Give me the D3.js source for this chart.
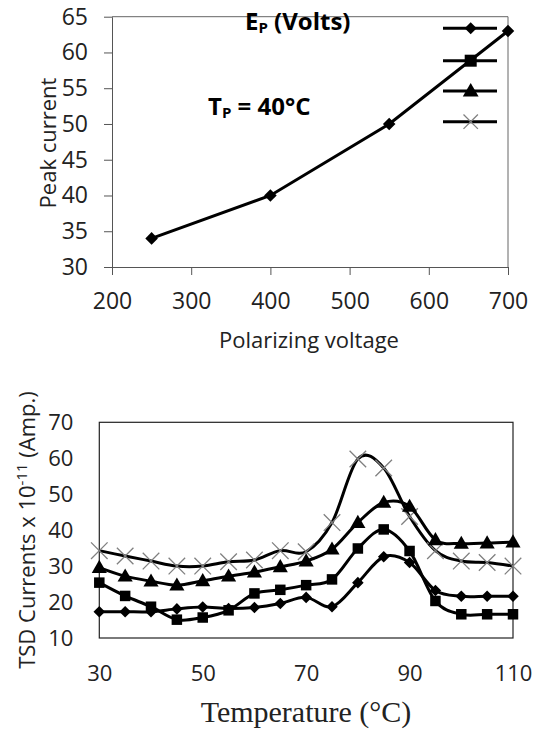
<!DOCTYPE html>
<html>
<head>
<meta charset="utf-8">
<script src="https://cdn.jsdelivr.net/npm/d3@7"></script>
<style>
  body { margin: 0; background: #fff; }
  svg { display: block; }
</style>
</head>
<body>
<script>
// top chart: peak current vs polarizing voltage
const voltages = [250, 400, 550, 700];
const peakCurrents = [34, 40, 50, 63];
const topXTicks = [200, 300, 400, 500, 600, 700];
const topYTicks = [30, 35, 40, 45, 50, 55, 60, 65];

// bottom chart: TSD currents vs temperature
const temps = [30, 35, 40, 45, 50, 55, 60, 65, 70, 75, 80, 85, 90, 95, 100, 105, 110];
const diamondSeries = [17.3, 17.3, 17.3, 18.1, 18.6, 18.2, 18.5, 19.6, 21.3, 18.7, 25.4, 32.6, 31.0, 23.2, 21.6, 21.6, 21.6];
const squareSeries = [25.4, 21.7, 18.7, 15.1, 15.7, 17.7, 22.4, 23.4, 24.7, 26.3, 34.9, 40.2, 34.2, 20.3, 16.6, 16.6, 16.6];
const triangleSeries = [29.6, 27.2, 25.8, 24.7, 25.9, 27.2, 28.3, 29.8, 31.4, 34.7, 42.1, 47.7, 46.6, 37.3, 36.3, 36.4, 36.7];
const crossSeries = [34.3, 32.8, 31.4, 30.0, 30.0, 31.2, 31.7, 34.3, 34.0, 42.1, 59.8, 57.3, 43.8, 34.3, 31.4, 31.0, 30.0];
const bottomXTicks = [30, 50, 70, 90, 110];
const bottomYTicks = [10, 20, 30, 40, 50, 60, 70];

const sansFont = "'Open Sans', Lato, sans-serif";

function main() {
    let svg = d3.select("body").append("svg")
        .attr("width", 540)
        .attr("height", 733);

    drawTopChart(svg);
    drawBottomChart(svg);
}

// marker helpers
function drawMarker(g, type, x, y, size) {
    if (type === "diamond") {
        let s = size * 0.71;
        g.append("rect")
            .attr("x", -s / 2).attr("y", -s / 2)
            .attr("width", s).attr("height", s)
            .attr("transform", "translate(" + x + "," + y + ") rotate(45)")
            .attr("fill", "#000");
    } else if (type === "square") {
        g.append("rect")
            .attr("x", x - size / 2).attr("y", y - size / 2)
            .attr("width", size).attr("height", size)
            .attr("fill", "#000");
    } else if (type === "triangle") {
        g.append("path")
            .attr("d", d3.symbol().type(d3.symbolTriangle).size(size * size * 0.75)())
            .attr("transform", "translate(" + x + "," + (y + 1) + ")")
            .attr("fill", "#000");
    } else if (type === "cross") {
        let h = size * 0.72;
        g.append("path")
            .attr("d", "M" + (x - h) + "," + (y - h) + "L" + (x + h) + "," + (y + h) +
                "M" + (x - h) + "," + (y + h) + "L" + (x + h) + "," + (y - h))
            .attr("stroke", "#808080")
            .attr("stroke-width", 1.3)
            .attr("fill", "none");
    }
}

function drawTopChart(svg) {
    let x = d3.scaleLinear().domain([200, 700]).range([112, 508]);
    let y = d3.scaleLinear().domain([30, 65]).range([267, 16.7]);

    let g = svg.append("g");

    // plot frame (top and right)
    g.append("path")
        .attr("d", "M" + x(200) + "," + y(65) + "H" + x(700) + "V" + y(30))
        .attr("stroke", "#666").attr("fill", "none");

    let xAxis = g.append("g")
        .attr("transform", "translate(0," + y(30) + ")")
        .call(d3.axisBottom(x).tickValues(topXTicks).tickSize(8).tickPadding(18).tickSizeOuter(0));
    let yAxis = g.append("g")
        .attr("transform", "translate(" + x(200) + ",0)")
        .call(d3.axisLeft(y).tickValues(topYTicks).tickSize(8).tickPadding(16).tickSizeOuter(0));

    [xAxis, yAxis].forEach(function (a) {
        a.selectAll("path, line").attr("stroke", "#555");
        a.selectAll("text")
            .attr("font-family", sansFont)
            .attr("font-size", 23)
            .attr("fill", "#222");
    });

    // axis titles
    g.append("text")
        .attr("x", 309).attr("y", 348)
        .attr("text-anchor", "middle")
        .attr("font-family", sansFont)
        .attr("font-size", 22)
        .attr("fill", "#222")
        .text("Polarizing voltage");

    g.append("text")
        .attr("transform", "translate(56,143) rotate(-90)")
        .attr("text-anchor", "middle")
        .attr("font-family", sansFont)
        .attr("font-size", 22)
        .attr("fill", "#222")
        .text("Peak current");

    // data line
    let points = voltages.map(function (v, i) { return [v, peakCurrents[i]]; });
    g.append("path")
        .datum(points)
        .attr("d", d3.line()
            .x(function (d) { return x(d[0]); })
            .y(function (d) { return y(d[1]); }))
        .attr("stroke", "#000").attr("stroke-width", 3).attr("fill", "none");

    points.forEach(function (d) {
        drawMarker(g, "diamond", x(d[0]), y(d[1]), 12.5);
    });

    // legend title
    let lt = g.append("text")
        .attr("x", 245).attr("y", 30)
        .attr("font-family", sansFont)
        .attr("font-weight", "bold")
        .attr("font-size", 24)
        .attr("fill", "#000");
    lt.append("tspan").text("E");
    lt.append("tspan").attr("font-size", 15).attr("dy", 3).text("P");
    lt.append("tspan").attr("dy", -3).text(" (Volts)");

    // legend entries (no labels)
    let legendTypes = ["diamond", "square", "triangle", "cross"];
    let legendY = [28.3, 60.7, 91, 121.7];
    legendTypes.forEach(function (t, i) {
        g.append("line")
            .attr("x1", 443).attr("x2", 497)
            .attr("y1", legendY[i]).attr("y2", legendY[i])
            .attr("stroke", "#000").attr("stroke-width", 3);
        drawMarker(g, t, 470.7, legendY[i], t === "cross" ? 10 : 12);
    });

    // annotation
    let tp = g.append("text")
        .attr("x", 208).attr("y", 115)
        .attr("font-family", sansFont)
        .attr("font-weight", "bold")
        .attr("font-size", 24)
        .attr("fill", "#000");
    tp.append("tspan").text("T");
    tp.append("tspan").attr("font-size", 15).attr("dy", 3).text("P");
    tp.append("tspan").attr("dy", -3).text(" = 40°C");
}

function drawBottomChart(svg) {
    let x = d3.scaleLinear().domain([30, 110]).range([99.3, 513]);
    let y = d3.scaleLinear().domain([10, 70]).range([638, 422.3]);

    let g = svg.append("g");

    // plot box
    g.append("rect")
        .attr("x", x(30)).attr("y", y(70))
        .attr("width", x(110) - x(30)).attr("height", y(10) - y(70))
        .attr("stroke", "#222").attr("stroke-width", 1.2).attr("fill", "none");

    let xAxis = g.append("g")
        .attr("transform", "translate(0," + y(10) + ")")
        .call(d3.axisBottom(x).tickValues(bottomXTicks).tickSize(0).tickPadding(27));
    let yAxis = g.append("g")
        .attr("transform", "translate(" + x(30) + ",0)")
        .call(d3.axisLeft(y).tickValues(bottomYTicks).tickSize(0).tickPadding(26));

    [xAxis, yAxis].forEach(function (a) {
        a.select(".domain").remove();
        a.selectAll("text")
            .attr("font-family", sansFont)
            .attr("font-size", 22)
            .attr("fill", "#222");
    });

    // axis titles
    g.append("text")
        .attr("x", 306).attr("y", 722)
        .attr("text-anchor", "middle")
        .attr("font-family", "'Liberation Serif', 'Times New Roman', serif")
        .attr("font-size", 30)
        .attr("fill", "#222")
        .text("Temperature (°C)");

    let yt = g.append("text")
        .attr("transform", "translate(35,530) rotate(-90)")
        .attr("text-anchor", "middle")
        .attr("font-family", sansFont)
        .attr("font-size", 22)
        .attr("fill", "#222");
    yt.append("tspan").text("TSD Currents x 10");
    yt.append("tspan").attr("font-size", 15).attr("dy", -8).text("-11");
    yt.append("tspan").attr("dy", 8).text(" (Amp.)");

    let line = d3.line()
        .x(function (d) { return x(d[0]); })
        .y(function (d) { return y(d[1]); })
        .curve(d3.curveCardinal.tension(0));

    let series = [
        {type: "cross", values: crossSeries},
        {type: "triangle", values: triangleSeries},
        {type: "square", values: squareSeries},
        {type: "diamond", values: diamondSeries}
    ];

    series.forEach(function (s) {
        let pts = temps.map(function (t, i) { return [t, s.values[i]]; });
        g.append("path")
            .datum(pts)
            .attr("d", line)
            .attr("stroke", "#000").attr("stroke-width", 3).attr("fill", "none");
        pts.forEach(function (d) {
            let size = s.type === "square" ? 10.5 : 11.5;
            drawMarker(g, s.type, x(d[0]), y(d[1]), size);
        });
    });
}

main();
</script>
</body>
</html>
